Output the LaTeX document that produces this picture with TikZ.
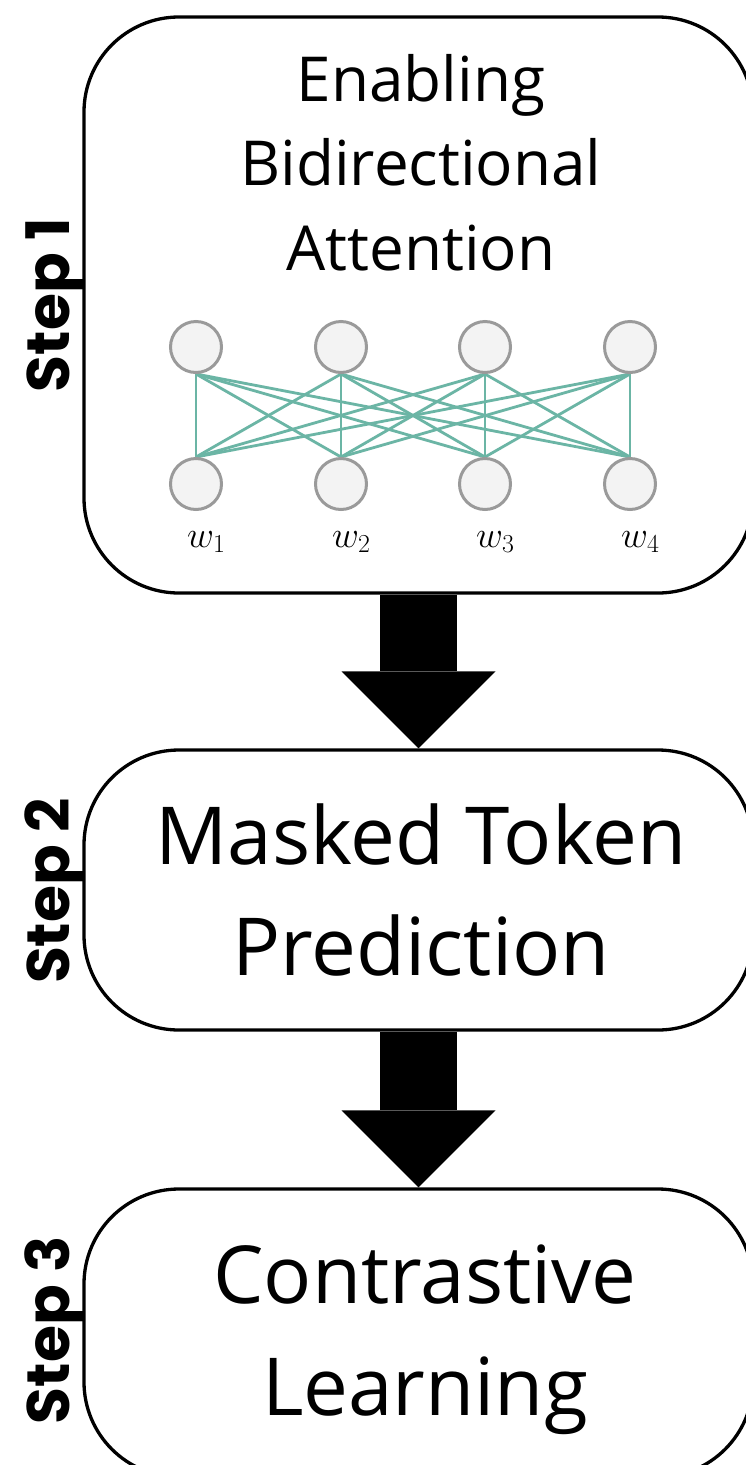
\RequirePackage{fix-cm}
\documentclass[tikz,border=0pt]{standalone}
\usepackage{fontspec}
\usetikzlibrary{arrows.meta,backgrounds}
\newfontfamily\labelfont{Open Sans}
\newfontfamily\stepfont{Poppins}
\definecolor{edgeteal}{HTML}{6BB5A5}
\definecolor{nodegray}{HTML}{9A9A9A}
\definecolor{nodefill}{HTML}{F3F3F3}
\begin{document}
\begin{tikzpicture}[x=1pt,y=-1pt,
  stage/.style={draw=black, line width=3.3pt, rounded corners=95pt, inner sep=0pt, minimum width=669pt},
  title/.style={font=\labelfont\fontsize{62}{62}\selectfont, anchor=base, inner sep=0pt},
  bigtitle/.style={font=\labelfont\fontsize{80}{80}\selectfont, anchor=base, inner sep=0pt},
  steplabel/.style={font=\stepfont\bfseries\fontsize{60}{60}\selectfont, rotate=90, anchor=base, inner sep=0pt},
  unit/.style={circle, draw=nodegray, fill=nodefill, line width=3pt, minimum size=51pt, inner sep=0pt},
  link/.style={draw=edgeteal, line width=2.8pt},
  wlabel/.style={font=\fontsize{37}{37}\selectfont, anchor=base west, inner sep=0pt},
  flow/.style={line width=77pt, -{Triangle[line width=0pt, length=77pt, width=154pt]}}
]
\useasboundingbox (0,0) rectangle (746,1465);
\clip (0,0) rectangle (746,1465);

% stage boxes
\node[stage, minimum height=576pt] (s1) at (418.5,305) {};
\node[stage, minimum height=280pt] (s2) at (418.5,890) {};
\node[stage, minimum height=288pt] (s3) at (418.5,1333) {};

% titles
\node[title] (t1a) at (421,101) {Enabling};
\node[title] (t1b) at (421,185) {Bidirectional};
\node[title] (t1c) at (421,270) {Attention};
\node[bigtitle] (t2a) at (421,864) {Masked Token};
\node[bigtitle] (t2b) at (421,975) {Prediction};
\node[bigtitle] (t3a) at (425,1303) {Contrastive};
\node[bigtitle] (t3b) at (425,1415) {Learning};

% step labels
\node[steplabel] (l1) at (69,305) {Step 1};
\node[steplabel] (l2) at (69,891) {Step 2};
\node[steplabel] (l3) at (69,1330) {Step 3};

% attention network
\foreach \i/\x in {1/196,2/341,3/485,4/630} {
  \node[unit] (u\i) at (\x,347) {};
  \node[unit] (d\i) at (\x,484) {};
  \node[wlabel] (w\i) at (\x-9,547) {$w_{\i}$};
}
\begin{pgfonlayer}{background}
\fill[white] (0,0) rectangle (746,1465);
\foreach \i in {1,...,4}{
  \foreach \j in {1,...,4}{
    \draw[link] (u\i.south) -- (d\j.north);
  }
}
\end{pgfonlayer}

% flow arrows
\draw[flow] (s1.south) -- (s2.north);
\draw[flow] (s2.south) -- (s3.north);
\end{tikzpicture}
\end{document}
